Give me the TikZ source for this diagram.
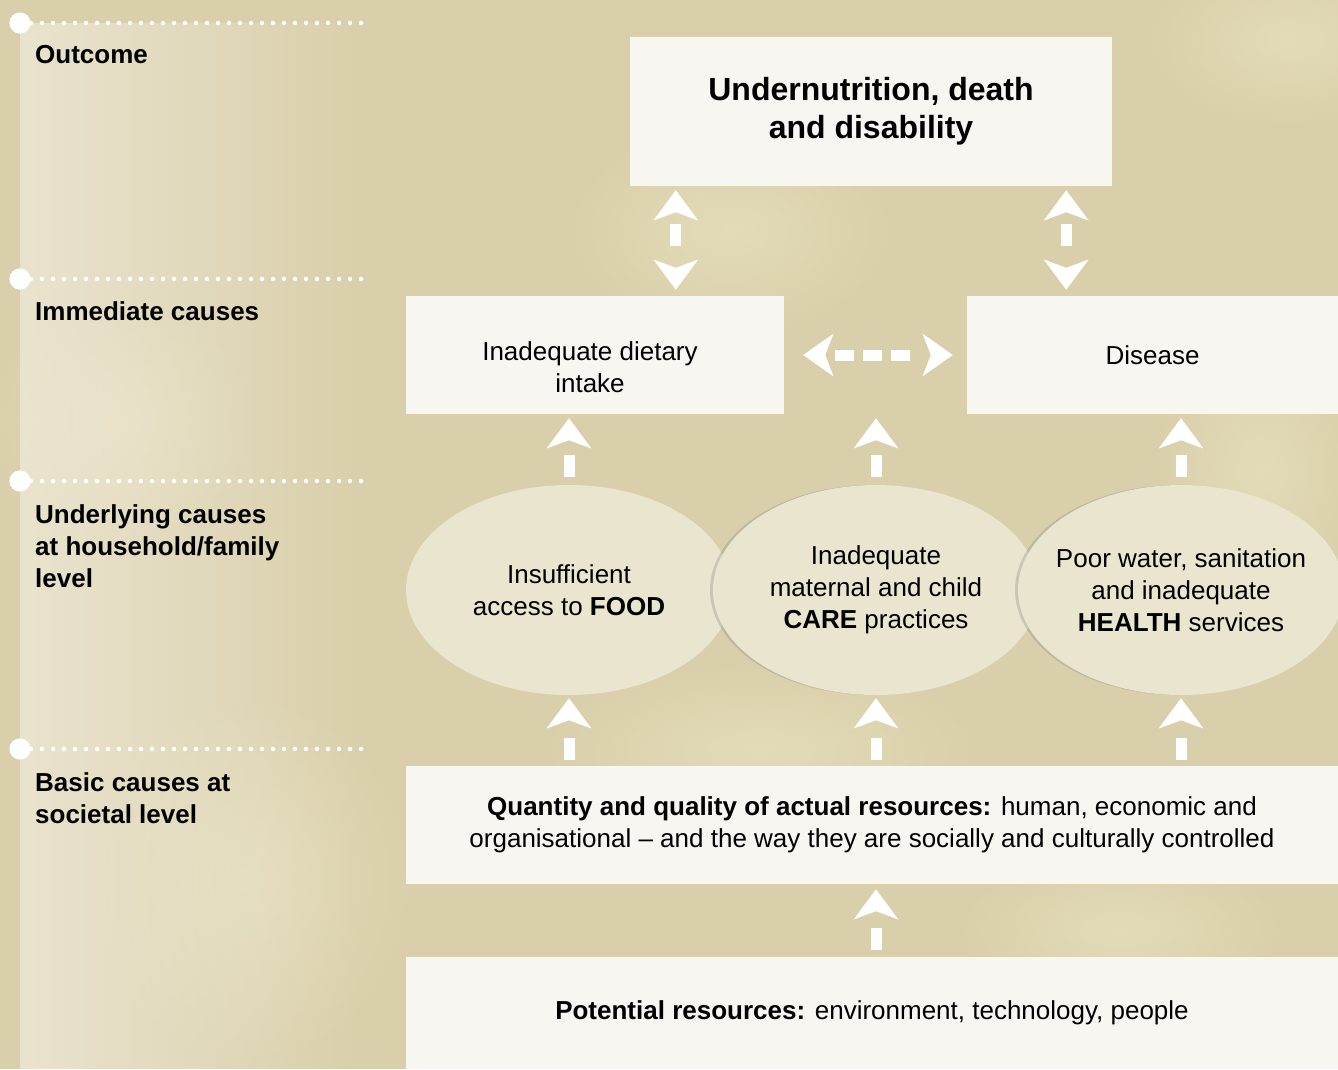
\documentclass[tikz,border=0pt]{standalone}
\usepackage{fontspec}
\setmainfont{Liberation Sans}
\usetikzlibrary{arrows.meta,positioning,shapes.geometric,shadows,fadings}
\definecolor{PaperBg}{HTML}{D9CFAA}
\definecolor{PaperLight}{HTML}{E7DFBD}
\definecolor{PanelLight}{HTML}{EEE9D7}
\definecolor{BoxFill}{HTML}{F8F6F0}
\definecolor{OvalFill}{HTML}{EAE5CE}
\tikzfading[name=panelfade, left color=transparent!20, right color=transparent!100]
\tikzfading[name=glowfade, inner color=transparent!25, outer color=transparent!100]

\tikzset{
  box/.style={rectangle, fill=BoxFill, inner sep=0pt, align=center,
    font=\fontsize{26}{32}\selectfont},
  boxtext/.style={inner sep=0pt, align=center, font=\fontsize{26}{32}\selectfont},
  oval/.style={ellipse, fill=OvalFill, inner sep=-20pt, minimum width=326pt,
    minimum height=210pt, align=center, font=\fontsize{26}{32}\selectfont},
  ovalshadow/.style={drop shadow={shadow xshift=-3pt, shadow yshift=0pt,
    opacity=.3, fill=black!50}},
  levellabel/.style={anchor=north west, inner sep=0pt, align=left,
    font=\fontsize{26}{32}\selectfont\bfseries},
  leveldot/.style={circle, fill=white, inner sep=0pt, minimum size=21pt},
  dotrule/.style={white, line width=4.5pt, line cap=round,
    dash pattern=on 0pt off 11pt},
  fatup/.style={white, line width=11pt,
    arrows={-Stealth[length=30pt, width=44pt, inset=8pt]},
    dash pattern=on 22pt off 40pt},
  fatboth/.style={white, line width=11pt,
    arrows={Stealth[length=30pt, width=44pt, inset=8pt]-Stealth[length=30pt, width=44pt, inset=8pt]},
    dash pattern=on 0pt off 13pt on 22pt off 40pt},
  fatside/.style={white, line width=11pt,
    arrows={Stealth[length=30pt, width=42pt, inset=8pt]-Stealth[length=30pt, width=42pt, inset=8pt]},
    dash pattern=on 0pt off 11pt on 19pt off 9pt on 19pt off 9pt on 19pt off 30pt}
}

\begin{document}
\begin{tikzpicture}[x=1pt, y=-1pt]
  % paper
  \fill[PaperBg] (0,0) rectangle (1338,1069);
  \clip (0,0) rectangle (1338,1069);
  \foreach \gx/\gy/\ga/\gb in {730/230/170/110, 1290/40/150/90, 1260/470/110/150,
      760/750/230/90, 1120/930/170/80, 250/880/170/190, 120/420/140/120}
    \fill[PaperLight, path fading=glowfade] (\gx,\gy) ellipse (\ga pt and \gb pt);

  % level markers on the left
  \node[leveldot] (lv1) at (20,23) {};
  \node[leveldot] (lv2) at (20,279) {};
  \node[leveldot] (lv3) at (20,481) {};
  \node[leveldot] (lv4) at (20,749) {};
  \fill[PanelLight, path fading=panelfade] (lv1.center) rectangle (365,279);
  \fill[PanelLight, path fading=panelfade] (lv2.center) rectangle (365,481);
  \fill[PanelLight, path fading=panelfade] (lv3.center) rectangle (365,749);
  \fill[PanelLight, path fading=panelfade] (lv4.center) rectangle (365,1069);
  \foreach \lv in {lv1,lv2,lv3,lv4}{
    \draw[dotrule] (\lv.center) -- ++(345,0);
    \node[leveldot] at (\lv) {};
  }
  \node[levellabel] (outcome) at (35,45) {Outcome};
  \node[levellabel] (immediate) at (35,301) {Immediate causes};
  \node[levellabel] (underlying) at (35,504) {Underlying causes\\at household/family\\level};
  \node[levellabel] (basic) at (35,772) {Basic causes at\\societal level};

  % boxes
  \node[box, minimum width=482pt, minimum height=149pt,
    font=\fontsize{32}{38}\selectfont\bfseries] (top) at (871,111.5)
    {Undernutrition, death\\and disability};
  \node[box, minimum width=378pt, minimum height=118pt] (diet) at (595,355) {};
  \node[boxtext] (diettext) at ([xshift=-5pt, yshift=-12pt]diet.center)
    {Inadequate dietary\\intake};
  \node[box, minimum width=371pt, minimum height=118pt] (disease) at (1152.5,355)
    {Disease};
  \node[oval] (food) at (569,590)
    {Insufficient\\access to \textbf{FOOD}};
  \node[oval, ovalshadow] (care) at (876,590)
    {Inadequate\\maternal and child\\\textbf{CARE} practices};
  \node[oval, ovalshadow] (health) at (1181,590)
    {Poor water, sanitation\\and inadequate\\\textbf{HEALTH} services};
  \node[box, minimum width=932pt, minimum height=118pt] (actual) at (872,825)
    {\textbf{Quantity and quality of actual resources:} human, economic and\\
     organisational -- and the way they are socially and culturally controlled};
  \node[box, minimum width=932pt, minimum height=112pt] (potential) at (872,1013)
    {\textbf{Potential resources:} environment, technology, people};

  % connectors
  \draw[fatboth, shorten <=4pt, shorten >=6pt]
    ([xshift=46pt]top.south west) -- ([xshift=46pt]top.south west |- diet.north);
  \draw[fatboth, shorten <=4pt, shorten >=6pt]
    ([xshift=-46pt]top.south east) -- ([xshift=-46pt]top.south east |- disease.north);
  \draw[fatside, shorten <=19pt, shorten >=14pt] (diet.east) -- (disease.west);
  \foreach \c in {food,care,health}{
    \draw[fatup, shorten <=8pt, shorten >=4pt] (\c.north) -- (\c.north |- diet.south);
    \draw[fatup, shorten <=6pt, shorten >=3pt] (\c.south |- actual.north) -- (\c.south);
  }
  \draw[fatup, shorten <=7pt, shorten >=5pt] (care |- potential.north) -- (care |- actual.south);
\end{tikzpicture}
\end{document}
